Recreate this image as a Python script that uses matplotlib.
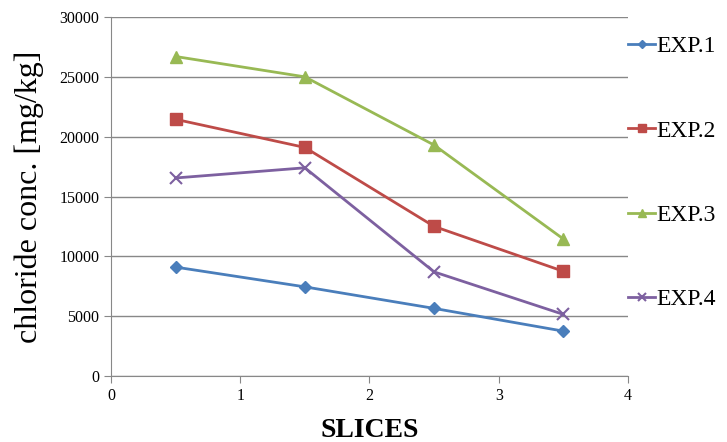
import matplotlib.pyplot as plt

slices = [0.5, 1.5, 2.5, 3.5]
exp1 = [9100, 7450, 5650, 3750]
exp2 = [21450, 19100, 12500, 8750]
exp3 = [26700, 25000, 19300, 11450]
exp4 = [16550, 17400, 8700, 5150]

labels = ["EXP.1", "EXP.2", "EXP.3", "EXP.4"]
colors = ["#4A7EBB", "#BE4B48", "#98B954", "#7D60A0"]
markers = ["D", "s", "^", "x"]
msizes = [6, 8, 8, 8]

plt.rcParams['font.family'] = ['Liberation Serif', 'DejaVu Serif']

fig = plt.figure(figsize=(7.27, 4.42), dpi=100)
ax = fig.add_axes([0.1527, 0.1493, 0.7111, 0.8122])

for ys, lab, c, m, ms in zip([exp1, exp2, exp3, exp4], labels, colors, markers, msizes):
    ax.plot(slices, ys, color=c, marker=m, markersize=ms, linewidth=2,
            markeredgewidth=1.5 if m == "x" else 1, label=lab)

ax.set_xlim(0, 4)
ax.set_ylim(0, 30000)
ax.set_xticks([0, 1, 2, 3, 4])
ax.set_yticks(range(0, 30001, 5000))
ax.grid(axis='y', color='#888888', linewidth=1)
ax.set_axisbelow(True)
for s in ['top', 'right']:
    ax.spines[s].set_visible(False)
for s in ['left', 'bottom']:
    ax.spines[s].set_color('#888888')
ax.tick_params(axis='both', colors='#888888', labelcolor='black', labelsize=11.5, length=5)

ax.set_xlabel("SLICES", fontsize=20, fontweight='bold', labelpad=10)
ax.set_ylabel("chloride conc. [mg/kg]", fontsize=23, labelpad=11)

ax.legend(loc='upper left', bbox_to_anchor=(1.0, 0.948), frameon=False,
          fontsize=17, labelspacing=2.66, handlelength=1.15, handletextpad=0.05,
          markerscale=0.7, borderaxespad=0, borderpad=0)

fig.savefig("out.png", dpi=100)
